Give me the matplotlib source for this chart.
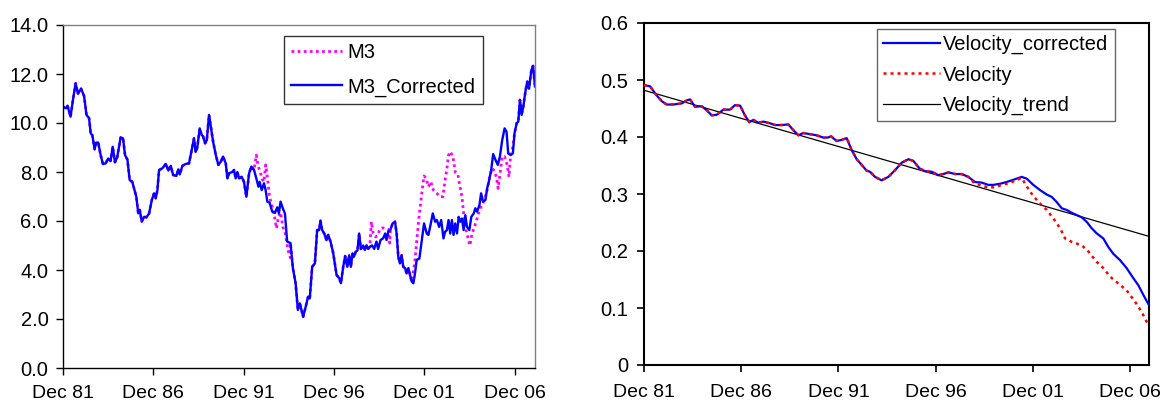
import matplotlib
matplotlib.use("Agg")
import matplotlib.pyplot as plt
import numpy as np

plt.rcParams['font.family'] = ['Liberation Sans', 'DejaVu Sans']

# x positions are months since Dec 1981
tick_months = [0, 60, 120, 180, 240, 300]
tick_labels = ["Dec 81", "Dec 86", "Dec 91", "Dec 96", "Dec 01", "Dec 06"]

# ---- Left chart: M3 growth ----
m3c_months = [0, 2, 3, 5, 6.6, 8.4, 9.9, 12, 14, 15.6, 17.3, 18.4, 19.5, 21, 22, 23.4, 25, 26.5, 28.3, 30,
              31.6, 33, 34.5, 36, 38.3, 39.9, 41.2, 42.8, 44.3, 46, 47.2, 48.7, 50, 51, 52.3, 53.9, 55.4, 57.2,
              59, 60.5, 61.6, 62.7, 63.8, 66, 68.3, 70, 71.6, 73.1, 75.3, 76.6, 77.5, 79.3, 81.5, 83.7, 85.5,
              87, 88.1, 89.2, 90.8, 92.1, 93, 94.4, 95.5, 97, 98.4, 99.7, 101.5, 103.2, 104.8, 106.3, 108.1,
              109.2, 110.3, 112.5, 113.6, 114.7, 115.8, 116.9, 118.7, 120.2, 121.8, 123.6, 125.1, 126.9, 128.4,
              129.8, 130.6, 132, 133.5, 134.6, 135.7, 137.2, 139, 140.8, 142.3, 143.4, 144.5, 146.1, 147.4,
              148.9, 151.1, 152.7, 154.5, 156, 157.3, 158.4, 159.5, 161.2, 162.8, 163.9, 165.5, 167.3, 168.8,
              170.1, 171, 172.1, 173.5, 175, 176.1, 177.7, 179.5, 181.7, 183.5, 184.6, 186.1, 187.4, 188.8,
              190.1, 191.2, 192.3, 193.2, 194.5, 195.6, 196.7, 197.8, 199.4, 200.5, 201.6, 202.7, 203.8, 205.3,
              206.7, 208.2, 209.3, 210.9, 212.7, 214, 214.9, 216, 217.5, 218.9, 220.5, 221.6, 222.7, 223.8,
              224.9, 226, 227.3, 228.2, 229.4, 230.5, 231.6, 232.7, 233.8, 234.9, 236.7, 238.3, 239.8, 241.6,
              242.7, 244.3, 245.6, 247.2, 248.3, 249.8, 251.2, 252.7, 253.8, 255, 256.1, 257.2, 258.3, 259.4,
              260.5, 261.7, 262.8, 263.9, 265, 266.1, 267.2, 268.3, 269.9, 271.2, 272.8, 273.9, 275, 276.6,
              277.7, 279, 280.6, 281.7, 282.8, 284.4, 285.7, 287.3, 288.8, 290.2, 291.7, 293.3, 294.6, 295.7,
              297.3, 298.8, 299.9, 301.3, 302.4, 303.5, 304.6, 305.7, 307.3, 308.4, 309.5, 311.1, 312.2, 313.5]
m3c_values = [10.66, 10.6, 10.7, 10.26, 10.94, 11.62, 11.2, 11.4, 11.1, 10.33, 10.2, 9.58, 9.5, 8.93, 9.2, 9.2,
              8.69, 8.33, 8.35, 8.55, 8.45, 9.03, 8.4, 8.6, 9.41, 9.37, 8.69, 8.5, 7.67, 7.6, 7.33, 6.99, 6.31,
              6.45, 5.98, 6.17, 6.15, 6.31, 6.86, 7.13, 6.93, 7.26, 8.08, 8.15, 8.33, 8.06, 8.25, 7.88, 7.84,
              8.11, 7.9, 8.25, 8.33, 8.35, 8.9, 9.37, 8.82, 9.0, 9.78, 9.51, 9.46, 9.17, 9.3, 10.33, 9.78, 9.24,
              8.69, 8.29, 8.42, 8.63, 8.35, 7.74, 7.95, 8.0, 8.08, 7.74, 8.0, 7.74, 7.8, 7.6, 6.99, 7.95, 8.22,
              8.08, 7.74, 7.4, 7.6, 7.26, 7.54, 7.26, 6.79, 6.75, 6.38, 6.33, 6.56, 6.31, 6.79, 6.5, 6.31, 5.16,
              5.1, 4.07, 3.46, 2.37, 2.64, 2.37, 2.09, 2.5, 2.91, 2.84, 4.13, 4.27, 5.63, 5.63, 6.01, 5.63, 5.49,
              5.22, 5.43, 5.16, 4.68, 3.8, 3.66, 3.46, 4.13, 4.57, 4.13, 4.6, 4.13, 4.68, 4.54, 4.75, 4.8, 5.49,
              4.86, 5.0, 4.82, 5.0, 4.86, 4.95, 5.0, 4.86, 5.16, 4.86, 5.22, 5.3, 5.49, 5.22, 5.56, 5.65, 5.9,
              5.97, 5.49, 4.54, 4.27, 4.6, 4.13, 4.07, 3.86, 4.07, 3.8, 3.53, 3.46, 3.86, 4.41, 4.47, 5.22, 5.9,
              5.49, 5.43, 5.9, 6.31, 5.97, 6.04, 5.76, 6.04, 5.29, 5.56, 5.63, 6.04, 5.49, 6.04, 5.43, 5.9, 5.49,
              6.17, 5.97, 6.1, 5.63, 6.24, 5.76, 5.63, 6.17, 6.31, 6.52, 6.38, 6.65, 7.13, 6.79, 6.86, 7.33, 7.6,
              8.08, 8.73, 8.49, 8.29, 8.63, 9.3, 9.78, 9.64, 8.76, 8.69, 8.76, 9.58, 9.99, 10.06, 10.94, 10.33,
              10.66, 11.35, 11.69, 11.4, 12.16, 12.33, 11.49]

# M3 (uncorrected) where it differs from M3_Corrected
m3_diff_months_a = [128.4, 129.6, 131, 132.3, 133.5, 134.6, 135.7, 137.2, 139, 140.5, 141.8, 143.2, 144.5,
                    146, 147.3, 148.4, 149.5, 151]
m3_diff_values_a = [8.69, 8.25, 8.0, 7.7, 7.6, 8.29, 7.8, 6.99, 6.58, 6.17, 5.7, 6.2, 6.35, 5.75, 5.6, 5.22,
                    4.8, 4.5]
m3_diff_months_b = [204.8, 206, 207.5, 209, 210.4, 212, 214, 216, 217]
m3_diff_values_b = [5.97, 5.5, 5.35, 5.4, 5.66, 5.72, 5.7, 5.66, 5.1]
m3_diff_months_c = [232.5, 233.8, 235, 236.7, 238.3, 239.8, 241.2, 242.7, 244.3, 246, 248.3, 250.5, 252.3,
                    253.8, 255, 256.1, 257.2, 259, 260.5, 262.2, 263.5, 265, 266.1, 267.2, 268.8, 270.2,
                    271.7, 273.3, 275, 276.6, 278.3, 279.9, 281.7, 283.4, 285, 286.1, 287.9, 289, 290.6,
                    291.7, 293.3, 295, 296.2, 297.3, 298.8]
m3_diff_values_c = [3.86, 4.41, 5.22, 6.31, 7.13, 7.84, 7.74, 7.4, 7.6, 7.26, 7.13, 6.99, 6.99, 7.67, 8.15,
                    8.69, 8.83, 8.63, 8.0, 7.93, 7.47, 6.99, 6.31, 5.76, 5.35, 5.0, 5.49, 5.76, 6.1, 6.45,
                    6.65, 6.86, 7.26, 7.8, 8.15, 8.08, 7.8, 7.33, 8.08, 8.63, 8.63, 8.29, 7.8, 8.69, 9.03]

# ---- Right chart: velocity ----
vc_months = [0, 3.7, 7.8, 10.9, 14, 18.1, 23.3, 26.3, 28.4, 31.5, 35.6, 38.7, 41.8, 44.9, 49, 53.1, 56.2,
             59.3, 62.3, 65, 67.5, 70.6, 73.7, 77.8, 80.9, 85, 89.1, 92.2, 95.3, 98.3, 102.4, 106.5, 110.7,
             113.2, 115.6, 118.9, 122, 125.1, 128.2, 131.3, 134.4, 137.4, 139.5, 142.6, 146.7, 150.8, 155,
             159.1, 163.2, 166.3, 170, 173.5, 177.6, 181.7, 184.8, 187.9, 192, 196.1, 200.2, 204.3, 208.4,
             212.5, 215.6, 219.8, 223.8, 228, 233.1, 236.2, 240.3, 244.4, 248.6, 251.6, 254.7, 257.8, 260.9,
             264, 267.1, 270.2, 273.3, 276.3, 279.4, 283.5, 286.6, 289.7, 293.8, 297.9, 302.1, 305.1, 308.2,
             311.3]
vc_values = [0.491, 0.489, 0.473, 0.463, 0.457, 0.457, 0.459, 0.464, 0.466, 0.453, 0.454, 0.447, 0.438,
             0.439, 0.448, 0.448, 0.456, 0.455, 0.438, 0.426, 0.430, 0.425, 0.427, 0.424, 0.421, 0.421, 0.422,
             0.412, 0.403, 0.407, 0.405, 0.403, 0.399, 0.399, 0.401, 0.393, 0.395, 0.398, 0.377, 0.361, 0.351,
             0.341, 0.339, 0.330, 0.324, 0.330, 0.342, 0.355, 0.361, 0.358, 0.345, 0.340, 0.339, 0.333, 0.335,
             0.338, 0.335, 0.335, 0.330, 0.321, 0.320, 0.316, 0.316, 0.318, 0.321, 0.325, 0.330, 0.327, 0.316,
             0.307, 0.299, 0.295, 0.286, 0.275, 0.272, 0.267, 0.263, 0.259, 0.251, 0.240, 0.231, 0.222, 0.207,
             0.195, 0.184, 0.170, 0.152, 0.140, 0.123, 0.107]

# Velocity (uncorrected) where it differs from Velocity_corrected
v_diff_months = [204.3, 208.4, 212.5, 216, 219.8, 224, 228, 232, 233.1, 238.3, 243.4, 248.6, 252.7, 256.8,
                 259.9, 264, 270.2, 274.3, 279.4, 283.5, 287.7, 292.8, 297.9, 303.1, 307.2, 311.3]
v_diff_values = [0.318, 0.315, 0.311, 0.312, 0.315, 0.318, 0.322, 0.327, 0.328, 0.304, 0.286, 0.272, 0.257,
                 0.240, 0.222, 0.216, 0.210, 0.199, 0.181, 0.170, 0.155, 0.143, 0.131, 0.111, 0.093, 0.070]

trend_months = [0, 311.3]
trend_values = [0.482, 0.226]


def splice(base_x, base_y, windows):
    xs, ys = list(base_x), list(base_y)
    for wx, wy in windows:
        lo, hi = wx[0], wx[-1]
        keep = [(a, b) for a, b in zip(xs, ys) if a < lo or a > hi]
        merged = keep + list(zip(wx, wy))
        merged.sort(key=lambda p: p[0])
        xs = [p[0] for p in merged]
        ys = [p[1] for p in merged]
    return xs, ys


m3_x, m3_y = splice(m3c_months, m3c_values,
                    [(m3_diff_months_a, m3_diff_values_a),
                     (m3_diff_months_b, m3_diff_values_b),
                     (m3_diff_months_c, m3_diff_values_c)])
v_x, v_y = splice(vc_months, vc_values, [(v_diff_months, v_diff_values)])

W, H = 1165, 404
fig = plt.figure(figsize=(W / 100, H / 100), dpi=100)
fs = 14.5

# Left axes
ax1 = fig.add_axes([63 / W, 1 - 368 / H, 472 / W, 343 / H])
ax1.plot(m3_x, m3_y, color='#FF00FF', lw=2.0, linestyle=(0, (1, 1.2)), label='M3')
ax1.plot(m3c_months, m3c_values, color='#0000FF', lw=1.7, label='M3_Corrected')
ax1.set_xlim(0, 313.5)
ax1.set_ylim(0, 14)
ax1.set_yticks(np.arange(0, 14.1, 2))
ax1.set_yticklabels([f"{v:.1f}" for v in np.arange(0, 14.1, 2)])
ax1.set_xticks(tick_months)
ax1.set_xticklabels(tick_labels)
ax1.tick_params(axis='both', direction='out', length=5, width=1, labelsize=fs, colors='black')
ax1.tick_params(axis='y', pad=5.5)
ax1.tick_params(axis='x', pad=7, labelsize=14)
for s in ['left', 'bottom']:
    ax1.spines[s].set_color('black')
    ax1.spines[s].set_linewidth(1.0)
for s in ['top', 'right']:
    ax1.spines[s].set_color('#808080')
    ax1.spines[s].set_linewidth(1.0)
leg1 = ax1.legend(loc='upper left', bbox_to_anchor=(0.468, 0.968), borderaxespad=0, fontsize=fs,
                  frameon=True, fancybox=False, edgecolor='black', handlelength=2.5,
                  borderpad=0.37, labelspacing=0.75, handletextpad=0.3)
leg1.get_frame().set_linewidth(1.0)

# Right axes
ax2 = fig.add_axes([644 / W, 1 - 365 / H, 505 / W, 342 / H])
ax2.plot(vc_months, vc_values, color='#0000FF', lw=1.6, label='Velocity_corrected', zorder=3)
ax2.plot(v_x, v_y, color='#FF0000', lw=1.8, linestyle=(0, (1.2, 1.6)), label='Velocity', zorder=4)
ax2.plot(trend_months, trend_values, color='black', lw=0.9, label='Velocity_trend', zorder=2)
ax2.set_xlim(0, 311.7)
ax2.set_ylim(0, 0.6)
yt = [0, 0.1, 0.2, 0.3, 0.4, 0.5, 0.6]
ax2.set_yticks(yt)
ax2.set_yticklabels(["0", "0.1", "0.2", "0.3", "0.4", "0.5", "0.6"])
ax2.set_xticks(tick_months)
ax2.set_xticklabels(tick_labels)
ax2.tick_params(axis='both', direction='out', length=5, width=1.2, labelsize=fs, colors='black')
ax2.tick_params(axis='y', pad=6.5)
ax2.tick_params(axis='x', pad=8.5, labelsize=14)
for s in ax2.spines.values():
    s.set_color('black')
    s.set_linewidth(1.5)
leg2 = ax2.legend(loc='upper left', bbox_to_anchor=(0.461, 0.982), borderaxespad=0, fontsize=fs,
                  frameon=True, fancybox=False, edgecolor='#404040', handlelength=2.85,
                  borderpad=0.3, labelspacing=0.55, handletextpad=0.15)
leg2.get_frame().set_linewidth(1.0)

fig.savefig('out.png', dpi=100)
